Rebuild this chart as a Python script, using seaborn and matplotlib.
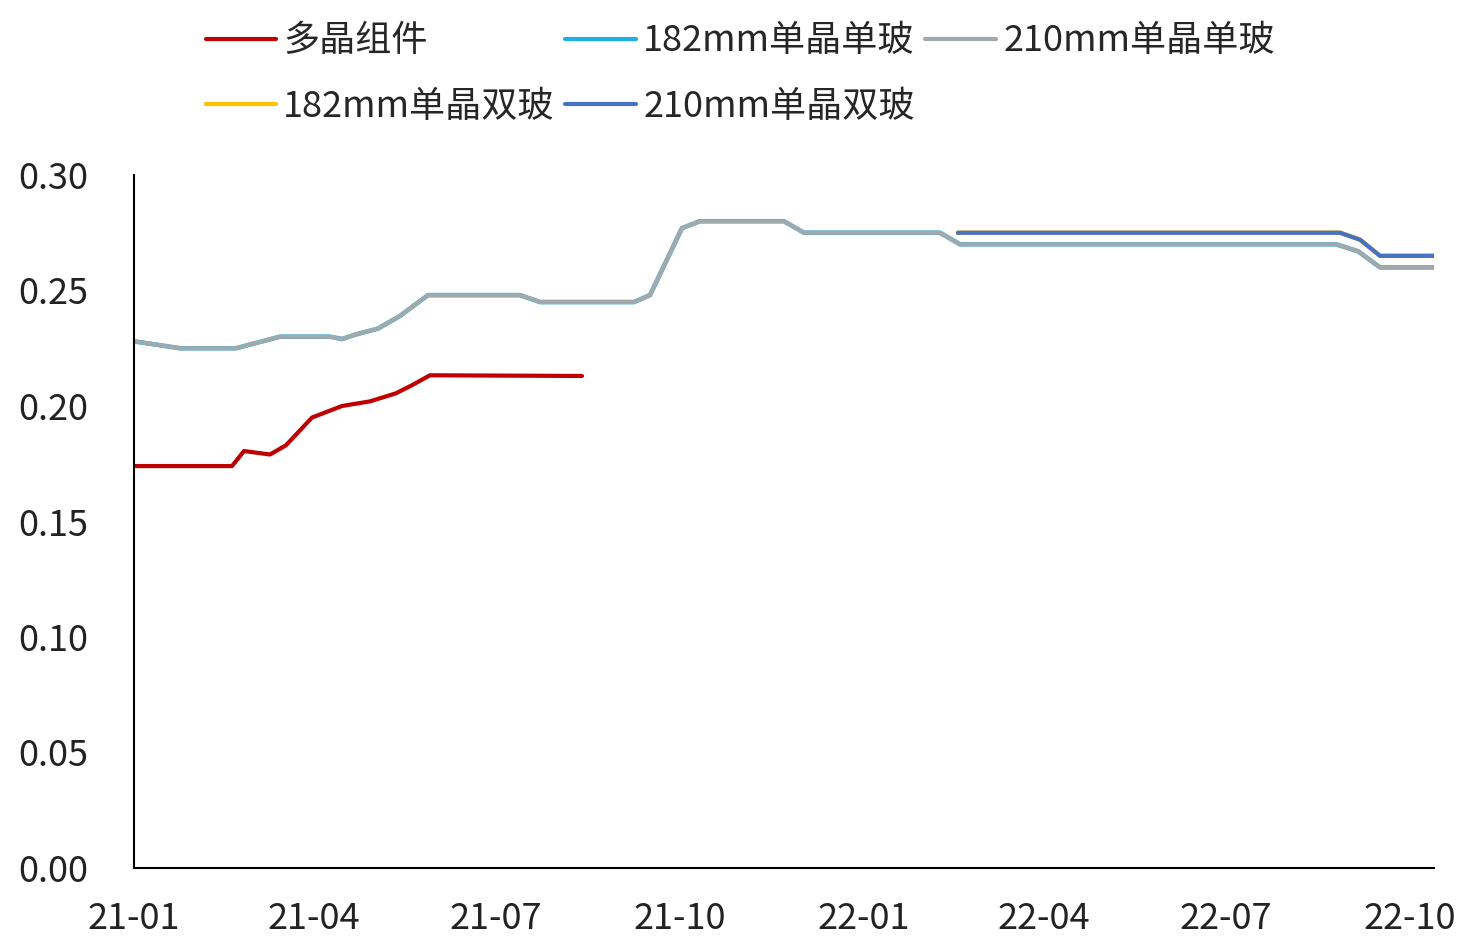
import matplotlib
matplotlib.use("Agg")
import matplotlib.pyplot as plt
import matplotlib.dates as mdates
import seaborn as sns
import pandas as pd

# ---- data ----
poly_dates = ["2021-01-01", "2021-02-19", "2021-02-25", "2021-03-10", "2021-03-18",
              "2021-03-31", "2021-04-15", "2021-04-29", "2021-05-12", "2021-05-20",
              "2021-05-29", "2021-08-13"]
poly_vals = [0.174, 0.174, 0.1805, 0.179, 0.183, 0.195, 0.200, 0.202, 0.2055, 0.209,
             0.2133, 0.2130]

single_dates = ["2021-01-01", "2021-01-24", "2021-02-21", "2021-03-15", "2021-04-09",
                "2021-04-15", "2021-04-22", "2021-05-03", "2021-05-14", "2021-05-28",
                "2021-07-13", "2021-07-23", "2021-09-08", "2021-09-16", "2021-10-02",
                "2021-10-11", "2021-11-22", "2021-12-02", "2022-02-08", "2022-02-18",
                "2022-08-25", "2022-09-05", "2022-09-16", "2022-10-13"]
single_182_vals = [0.228, 0.225, 0.225, 0.230, 0.230, 0.229, 0.231, 0.2335, 0.239, 0.248,
                   0.248, 0.245, 0.245, 0.248, 0.277, 0.280, 0.280, 0.275, 0.275, 0.270,
                   0.270, 0.267, 0.260, 0.260]
single_210_vals = [0.228, 0.225, 0.225, 0.230, 0.230, 0.229, 0.231, 0.2335, 0.239, 0.248,
                   0.248, 0.245, 0.245, 0.248, 0.277, 0.280, 0.280, 0.275, 0.275, 0.270,
                   0.270, 0.267, 0.260, 0.260]

double_dates = ["2022-02-17", "2022-08-27", "2022-09-06", "2022-09-16", "2022-10-13"]
double_182_vals = [0.275, 0.275, 0.272, 0.265, 0.265]
double_210_vals = [0.275, 0.275, 0.272, 0.265, 0.265]

labels = ["多晶组件", "182mm单晶单玻", "210mm单晶单玻", "182mm单晶双玻", "210mm单晶双玻"]
colors = ["#C00000", "#1CB0E6", "#A1A9AC", "#FFC000", "#4472C4"]

tick_dates = ["2021-01-01", "2021-04-01", "2021-07-01", "2021-10-01",
              "2022-01-01", "2022-04-01", "2022-07-01", "2022-10-01"]
y_ticks = [0.00, 0.05, 0.10, 0.15, 0.20, 0.25, 0.30]

# ---- plot ----
sns.set_theme(style="white")
plt.rcParams['font.family'] = ['Noto Sans CJK SC', 'DejaVu Sans']

fig = plt.figure(figsize=(14.62, 9.36), dpi=100)
ax = fig.add_axes([134 / 1462, 1 - 868 / 936, (1434 - 134) / 1462, (868 - 175) / 936])

series = [
    (poly_dates, poly_vals, labels[0], colors[0], 3.0),
    (single_dates, single_182_vals, labels[1], colors[1], 3.3),
    (double_dates, double_182_vals, labels[3], colors[3], 3.3),
    (single_dates, single_210_vals, labels[2], colors[2], 3.0),
    (double_dates, double_210_vals, labels[4], colors[4], 3.0),
]
for d, v, lab, c, lw in series:
    df = pd.DataFrame({"date": pd.to_datetime(d), "val": v})
    sns.lineplot(data=df, x="date", y="val", ax=ax, color=c, linewidth=lw,
                 label=lab, legend=False)

ax.set_xlim(pd.Timestamp("2021-01-01"), pd.Timestamp("2022-10-13"))
ax.set_ylim(0, 0.30)
ax.set_xticks(pd.to_datetime(tick_dates))
ax.xaxis.set_major_formatter(mdates.DateFormatter("%y-%m"))
ax.set_yticks(y_ticks)
ax.set_yticklabels([f"{t:.2f}" for t in y_ticks])
ax.set_xlabel("")
ax.set_ylabel("")
for s in ["top", "right"]:
    ax.spines[s].set_visible(False)
for s in ["left", "bottom"]:
    ax.spines[s].set_color("black")
    ax.spines[s].set_linewidth(1.5)
ax.tick_params(axis="both", length=0, labelsize=26, colors="#222222")
ax.tick_params(axis="x", pad=24)
ax.tick_params(axis="y", pad=33)
ax.grid(False)

handles = {h.get_label(): h for h in ax.get_lines()}
order = [labels[0], labels[3], labels[1], labels[4], labels[2]]
leg = fig.legend([handles[o] for o in order], order, loc="upper left",
                 bbox_to_anchor=(173 / 1462, 1 + 9 / 936), ncol=3, frameon=False,
                 fontsize=26, handlelength=1.95, handletextpad=0.2,
                 columnspacing=0.3, labelspacing=0.82)
for lh in leg.get_lines():
    lh.set_linewidth(3.0)

fig.savefig("out.png", dpi=100, facecolor="white")
